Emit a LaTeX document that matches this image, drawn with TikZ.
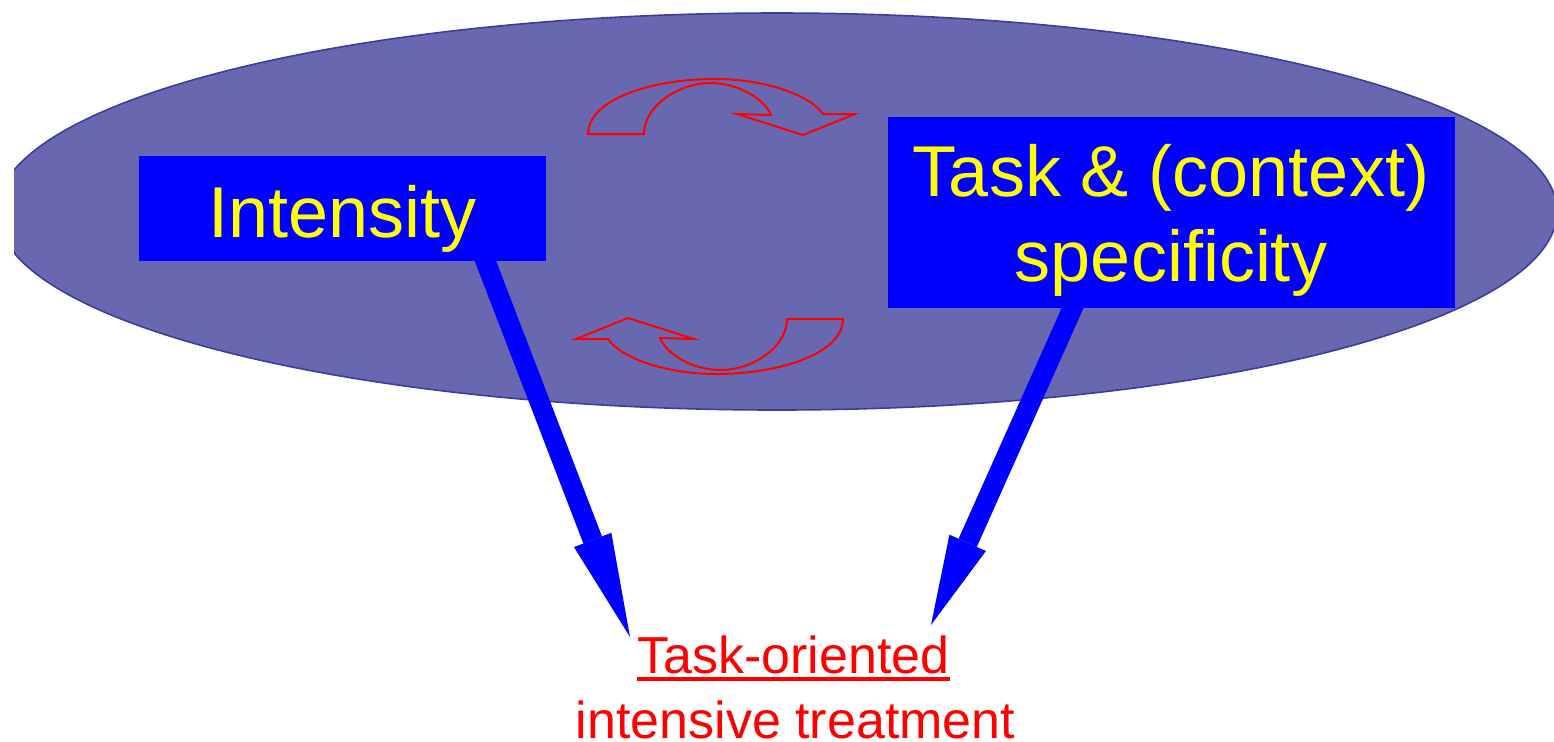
\documentclass[tikz,border=0pt]{standalone}
\usepackage{fontspec}
\setmainfont{Liberation Sans}
\usetikzlibrary{arrows.meta}
\definecolor{ovalfill}{RGB}{104,104,176}
\definecolor{ovalline}{RGB}{60,60,160}
\definecolor{boxblue}{RGB}{0,0,255}
\definecolor{labelyellow}{RGB}{255,255,0}
\definecolor{loopred}{RGB}{255,0,0}
\tikzset{
  factorbox/.style={rectangle, fill=boxblue, text=labelyellow, inner sep=0pt,
    font=\fontsize{36pt}{42.5pt}\selectfont, align=center},
  outcome/.style={text=loopred, inner sep=0pt, anchor=base,
    font=\fontsize{26pt}{32.5pt}\selectfont},
  fatarrow/.style={draw=boxblue, line width=10pt,
    -{Triangle[length=#1, width=20pt, line width=0pt]}},
  looparrow/.style={draw=loopred, line width=1pt, line join=miter}
}
\begin{document}
\begin{tikzpicture}[x=0.5pt, y=-0.5pt]
\useasboundingbox (0,0) rectangle (1554,741);

% background oval, cut off on the left
\begin{scope}
  \clip (14,0) rectangle (1554,741);
  \filldraw[fill=ovalfill, draw=ovalline, line width=0.8pt]
    (777,211.5) ellipse [x radius=390pt, y radius=99.25pt];
\end{scope}

% the two factors
\node[factorbox, minimum width=203.5pt, minimum height=52.5pt,
      text height=28.5pt, text depth=0pt] (intens) at (342.5,208.5) {Intensity};
\node[factorbox, minimum width=283.5pt, minimum height=95.5pt,
      text depth=0pt] (task) at (1171,212.5) {Task \& (context)\\specificity};

% circular interplay between the factors
\draw[looparrow] (588,134) -- (644,134)
  .. controls (644,105) and (680,83) .. (710,83)
  .. controls (740,83) and (765,100) .. (771,115)
  -- (737,114) -- (803,135) -- (855,114) -- (823,114)
  .. controls (810,95) and (765,79) .. (715,79)
  .. controls (650,79) and (588,100) .. (588,134) -- cycle;
\begin{scope}[rotate around={180:(715.5,226.5)}]
\draw[looparrow] (588,134) -- (644,134)
  .. controls (644,105) and (680,83) .. (710,83)
  .. controls (740,83) and (765,100) .. (771,115)
  -- (737,114) -- (803,135) -- (855,114) -- (823,114)
  .. controls (810,95) and (765,79) .. (715,79)
  .. controls (650,79) and (588,100) .. (588,134) -- cycle;
\end{scope}

% outcome
\node[outcome] (oriented) at (793.5,673.3) {Task-oriented};
\node[outcome] (treatment) at (795.5,738) {intensive treatment};
\draw[loopred, line width=1.65pt]
  ([yshift=-2.85pt]oriented.base west) -- ([yshift=-2.85pt]oriented.base east);

% both factors lead to the outcome
\coordinate (tipL) at (630,637);
\coordinate (tipR) at (931,625);
\draw[fatarrow=52pt] ([xshift=70pt, yshift=4pt]intens.south) -- (tipL);
\draw[fatarrow=45pt] ([xshift=-47.5pt, yshift=4pt]task.south) -- (tipR);
\end{tikzpicture}
\end{document}
